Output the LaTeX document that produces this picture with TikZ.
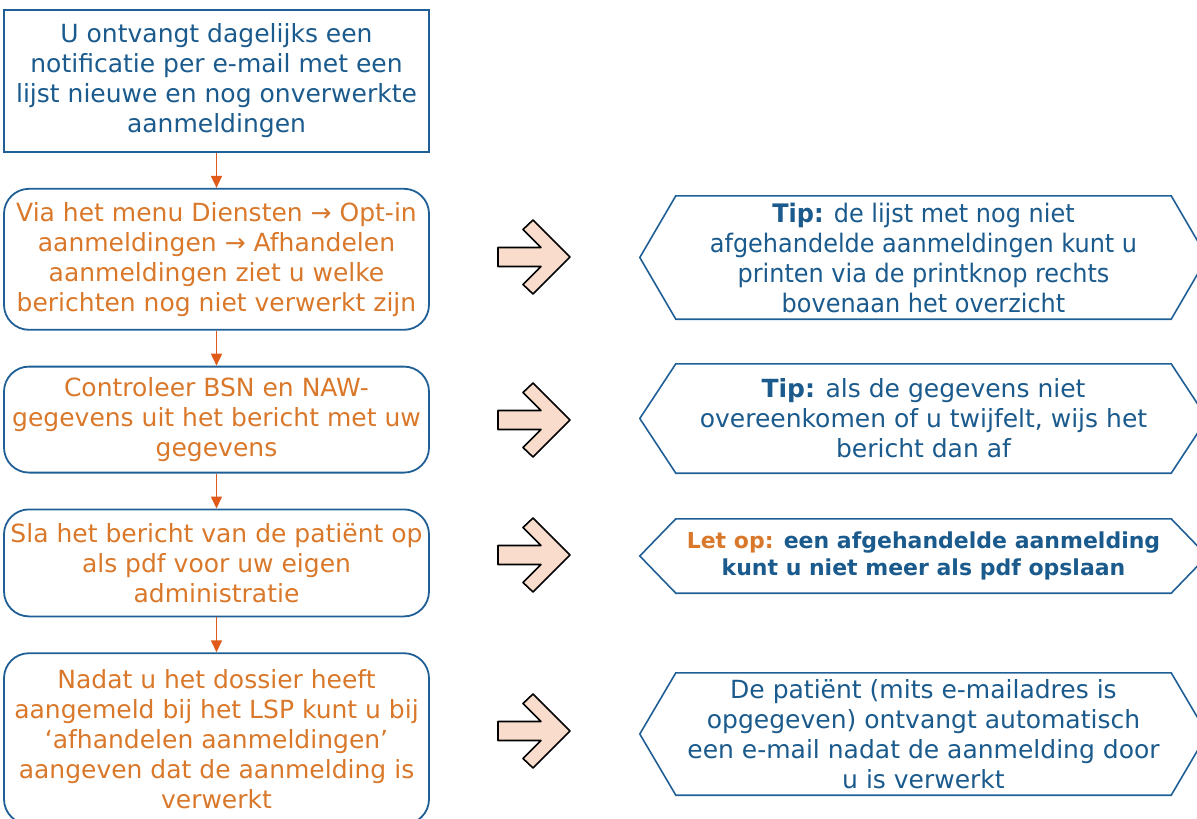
\documentclass[tikz,border=0pt]{standalone}
\usepackage{fontspec}
\setmainfont{DejaVu Sans}
\newfontfamily\condfont[FakeStretch=0.94]{DejaVu Sans}
\usetikzlibrary{positioning,arrows.meta}
\definecolor{dblue}{HTML}{1F5F96}
\definecolor{tblue}{HTML}{1A5A8C}
\definecolor{torange}{HTML}{D9782A}
\definecolor{lorange}{HTML}{E05A1A}
\definecolor{peach}{HTML}{F9DCCB}
\begin{document}
\begin{tikzpicture}[x=1pt, y=-1pt, node distance=35pt,
    box/.style = {draw=dblue, line width=1.8pt, rounded corners=25pt, minimum width=425pt, inner sep=0pt, align=center, text=torange, font=\fontsize{25}{30}\selectfont},
    start/.style = {box, rounded corners=0pt, text=tblue},
    tip/.style = {minimum width=567pt, inner sep=0pt, align=center, text=tblue, font=\fontsize{25}{30}\selectfont},
    hexline/.style = {draw=dblue, line width=1.6pt},
    flow/.style = {lorange, line width=1.6pt, -{Triangle[width=11pt,length=12pt]}},
    pijl/.style = {draw=black, fill=peach, line width=1.6pt, line join=round}]
    \useasboundingbox (0,0) rectangle (1197,819);

    \node[start, minimum height=142pt] (1) at (216.5,81) {U ontvangt dagelijks een\\ notificatie per e-mail met een\\ lijst nieuwe en nog onverwerkte\\ aanmeldingen};
    \node[box, minimum height=141pt] (2) [below=of 1] {Via het menu Diensten → Opt-in\\ aanmeldingen → Afhandelen\\ aanmeldingen ziet u welke\\ berichten nog niet verwerkt zijn};
    \node[box, minimum height=106pt] (3) [below=of 2] {Controleer BSN en NAW-\\ gegevens uit het bericht met uw\\ gegevens};
    \node[box, minimum height=107pt] (4) [below=of 3] {Sla het bericht van de patiënt op\\ als pdf voor uw eigen\\ administratie};
    \node[box, minimum height=171pt] (5) [below=of 4] {Nadat u het dossier heeft\\ aangemeld bij het LSP kunt u bij\\ ‘afhandelen aanmeldingen’\\ aangeven dat de aanmelding is\\ verwerkt};

    \node[tip, font=\condfont\fontsize{25.5}{30}\selectfont, minimum height=123pt] (6) at (923.5,257.5) {\textbf{Tip:} de lijst met nog niet\\ afgehandelde aanmeldingen kunt u\\ printen via de printknop rechts\\ bovenaan het overzicht};
    \node[tip, minimum height=109pt] (7) at (923.5,418.5) {\textbf{Tip:} als de gegevens niet\\ overeenkomen of u twijfelt, wijs het\\ bericht dan af};
    \node[tip, font=\fontsize{22}{27}\selectfont\bfseries, minimum height=74pt] (8) at (923.5,556) {{\color{torange}Let op:} een afgehandelde aanmelding\\ kunt u niet meer als pdf opslaan};
    \node[tip, minimum height=122pt] (9) at (923.5,734) {De patiënt (mits e-mailadres is\\ opgegeven) ontvangt automatisch\\ een e-mail nadat de aanmelding door\\ u is verwerkt};

    \foreach \n in {6,...,9}
        \draw[hexline] ([xshift=36pt]\n.north west) -- ([xshift=-36pt]\n.north east) -- (\n.east) -- ([xshift=-36pt]\n.south east) -- ([xshift=36pt]\n.south west) -- (\n.west) -- cycle;

    \foreach \a/\b in {1/2,2/3,3/4,4/5}
        \draw[flow] (\a) -- (\b);

    \foreach \y in {257,420,555,731}
        \draw[pijl] (570,\y) -- ++(-37,-37) -- ++(-10,9.5) -- ++(18,18) -- ++(-43,0) -- ++(0,19) -- ++(43,0) -- ++(-18,18) -- ++(10,9.5) -- cycle;
\end{tikzpicture}
\end{document}
